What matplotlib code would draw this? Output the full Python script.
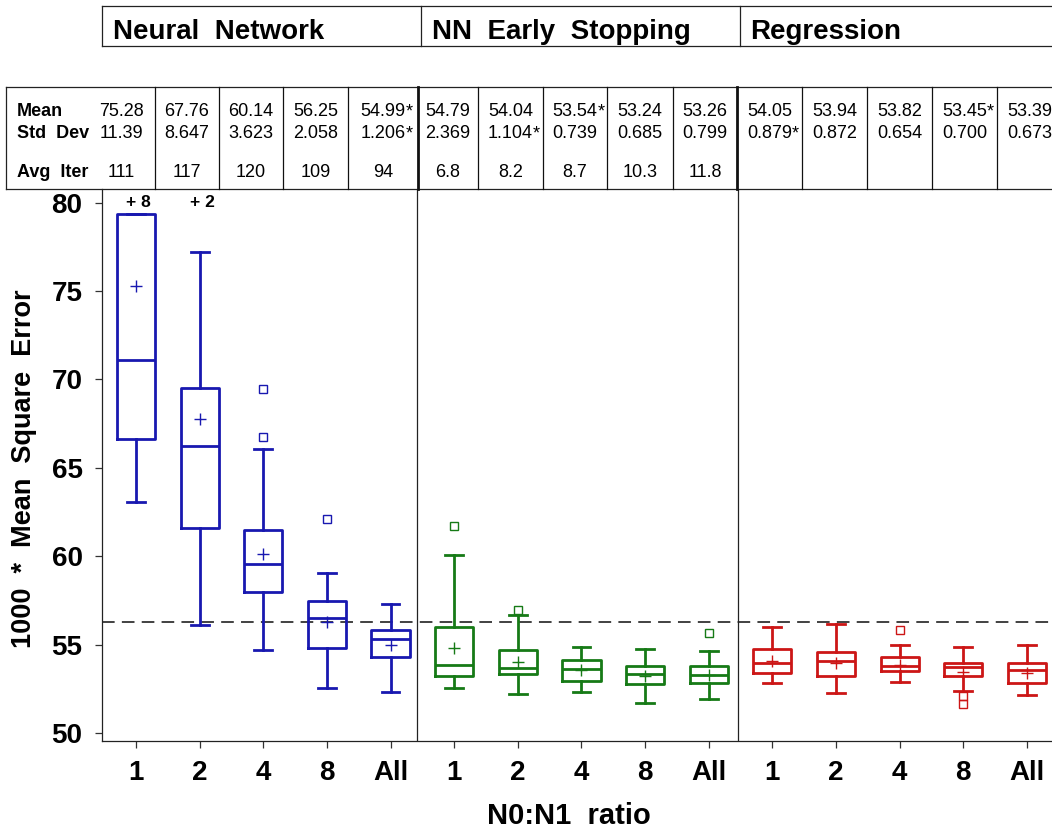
import matplotlib
matplotlib.use('Agg')
import matplotlib.pyplot as plt

plt.rcParams['font.family'] = ['Liberation Sans', 'DejaVu Sans']

# ---------------------------------------------------------------- data
methods = ['Neural  Network', 'NN  Early  Stopping', 'Regression']
ratios = ['1', '2', '4', '8', 'All']
colors = ['#1818b0', '#167a16', '#cc1616']

# box-plot summaries: one row per method, one column per N0:N1 ratio
q1 = [[66.61, 61.58, 57.99, 54.79, 54.30],
      [53.24, 53.32, 52.96, 52.75, 52.83],
      [53.38, 53.22, 53.49, 53.24, 52.81]]
median = [[71.10, 66.23, 59.56, 56.49, 55.30],
          [53.85, 53.70, 53.62, 53.34, 53.28],
          [53.94, 54.07, 53.81, 53.72, 53.55]]
q3 = [[79.34, 69.50, 61.46, 57.48, 55.84],
      [56.01, 54.68, 54.13, 53.81, 53.81],
      [54.73, 54.56, 54.30, 53.94, 53.94]]
whisker_lo = [[63.08, 56.11, 54.68, 52.56, 52.32],
              [52.53, 52.21, 52.34, 51.71, 51.91],
              [52.81, 52.26, 52.87, 52.39, 52.13]]
whisker_hi = [[79.34, 77.21, 66.05, 59.05, 57.31],
              [60.09, 56.67, 54.85, 54.73, 54.65],
              [56.01, 56.18, 54.96, 54.85, 54.98]]
outliers = [[[], [], [69.44, 66.76], [62.09], []],
            [[61.71], [56.96], [], [], [55.66]],
            [[], [], [55.83], [52.09, 51.64], []]]
# number of observations above the plotted range
above_range = [[8, 2, 0, 0, 0],
               [0, 0, 0, 0, 0],
               [0, 0, 0, 0, 0]]

mean = [[75.28, 67.76, 60.14, 56.25, 54.99],
        [54.79, 54.04, 53.54, 53.24, 53.26],
        [54.05, 53.94, 53.82, 53.45, 53.39]]
mean_best = [4, 2, 3]
std_dev = [[11.39, 8.647, 3.623, 2.058, 1.206],
           [2.369, 1.104, 0.739, 0.685, 0.799],
           [0.879, 0.872, 0.654, 0.700, 0.673]]
std_best = [4, 1, 0]
avg_iter = [[111, 117, 120, 109, 94],
            [6.8, 8.2, 8.7, 10.3, 11.8],
            [None, None, None, None, None]]

reference_mse = 56.25

# ---------------------------------------------------------------- figure
W, H = 1052, 835
fig = plt.figure(figsize=(W / 100, H / 100), dpi=100)


def fx(px):
    return px / W


def fy(py):
    return 1 - py / H


ax_left, ax_right, ax_top, ax_bottom = 102, 1052, 189, 741
ax = fig.add_axes([fx(ax_left), fy(ax_bottom),
                   fx(ax_right - ax_left), (ax_bottom - ax_top) / H])

n_groups, n_cat = len(methods), len(ratios)
for g in range(n_groups):
    stats = []
    for i in range(n_cat):
        stats.append(dict(med=median[g][i], q1=q1[g][i], q3=q3[g][i],
                          whislo=whisker_lo[g][i], whishi=whisker_hi[g][i],
                          mean=mean[g][i], fliers=outliers[g][i]))
    c = colors[g]
    pos = [g * n_cat + i for i in range(n_cat)]
    ax.bxp(stats, positions=pos, widths=0.6, capwidths=0.28,
           showmeans=True, meanline=False, manage_ticks=False,
           boxprops=dict(color=c, lw=2.0),
           medianprops=dict(color=c, lw=2.0),
           whiskerprops=dict(color=c, lw=2.0),
           capprops=dict(color=c, lw=2.0),
           flierprops=dict(marker='s', markerfacecolor='none',
                           markeredgecolor=c, markersize=6, markeredgewidth=1.0),
           meanprops=dict(marker='+', markeredgecolor=c, markersize=8.5,
                          markeredgewidth=1.0))
    for i in range(n_cat):
        if above_range[g][i]:
            ax.annotate(f'+ {above_range[g][i]}', xy=(pos[i], 1),
                        xycoords=('data', 'axes fraction'),
                        xytext=(2, -10), textcoords='offset points',
                        ha='center', va='center', fontsize=12.5,
                        fontweight='bold')

ax.axhline(reference_mse, color='#333333', lw=1.3, dashes=(7, 4), zorder=0.5)

# panel separators between the three methods
for xsep in (4.415, 9.46):
    ax.axvline(xsep, color='#222222', lw=0.9)

ax.set_xlim(-0.534, 14.394)
ax.set_ylim(49.547, 80.77)
ax.set_yticks([50, 55, 60, 65, 70, 75, 80])
ax.set_xticks(range(n_groups * n_cat))
ax.set_xticklabels(ratios * n_groups)
for lab in ax.get_xticklabels() + ax.get_yticklabels():
    lab.set_fontweight('bold')
    lab.set_fontsize(20)
ax.tick_params(axis='both', length=5, width=0.9, color='#333333')
ax.tick_params(axis='y', pad=9)
ax.tick_params(axis='x', pad=9)
for side in ('top', 'right'):
    ax.spines[side].set_visible(False)
for side in ('left', 'bottom'):
    ax.spines[side].set_linewidth(0.9)
    ax.spines[side].set_color('#222222')

fig.text(fx(24), fy(469), '1000  *  Mean  Square  Error', rotation=90,
         ha='center', va='center', fontsize=19.5, fontweight='bold')
fig.text(fx(569), fy(824), 'N0:N1  ratio', ha='center', va='baseline',
         fontsize=21, fontweight='bold')

# ---------------------------------------------------------------- header and stats table
ov = fig.add_axes([0, 0, 1, 1], zorder=5)
ov.set_xlim(0, W)
ov.set_ylim(H, 0)
ov.axis('off')
ov.patch.set_visible(False)

line_kw = dict(color='#222222', lw=0.9)

# method header
ov.plot([102, W], [6, 6], **line_kw)
ov.plot([102, W], [46, 46], **line_kw)
for xh in (102, 421, 740):
    ov.plot([xh, xh], [6, 46], **line_kw)
for xh, name in zip((113, 432, 750), methods):
    ov.text(xh, 39, name, fontsize=20, fontweight='bold', va='baseline')

# statistics table
tbl_top, tbl_bot = 87, 189
ov.plot([6, W], [tbl_top, tbl_top], **line_kw)
ov.plot([6, W], [tbl_bot, tbl_bot], **line_kw)
ov.plot([6, 6], [tbl_top, tbl_bot], **line_kw)
edges = [88, 155, 219, 283, 348, 418, 478, 543, 607, 673, 737,
         802, 867, 932, 997, 1062]
for k, xe in enumerate(edges[1:-1], start=1):
    thick = k in (5, 10)
    ov.plot([xe, xe], [tbl_top, tbl_bot], color='#111111',
            lw=2.0 if thick else 0.9)
centers = [(a + b) / 2 for a, b in zip(edges[:-1], edges[1:])]

fs_tbl = 13
row_base = [116, 138, 177]
row_names = ['Mean', 'Std  Dev', 'Avg  Iter']
for yb, name in zip(row_base, row_names):
    ov.text(17, yb, name, fontsize=fs_tbl, fontweight='bold', va='baseline')


def cell(x, y, s, star):
    t = ov.text(x, y, s, fontsize=fs_tbl, ha='center', va='baseline')
    if star:
        ov.annotate('*', xy=(1, 1), xycoords=t, ha='left', va='top',
                    fontsize=fs_tbl)


for g in range(n_groups):
    for i in range(n_cat):
        k = g * n_cat + i
        xc = centers[k]
        cell(xc, row_base[0], f'{mean[g][i]:.2f}', i == mean_best[g])
        sd = std_dev[g][i]
        cell(xc, row_base[1], f'{sd:.2f}' if sd >= 10 else f'{sd:.3f}',
             i == std_best[g])
        if avg_iter[g][i] is not None:
            cell(xc, row_base[2], f'{avg_iter[g][i]:g}', False)

fig.savefig('out.png', dpi=100)
